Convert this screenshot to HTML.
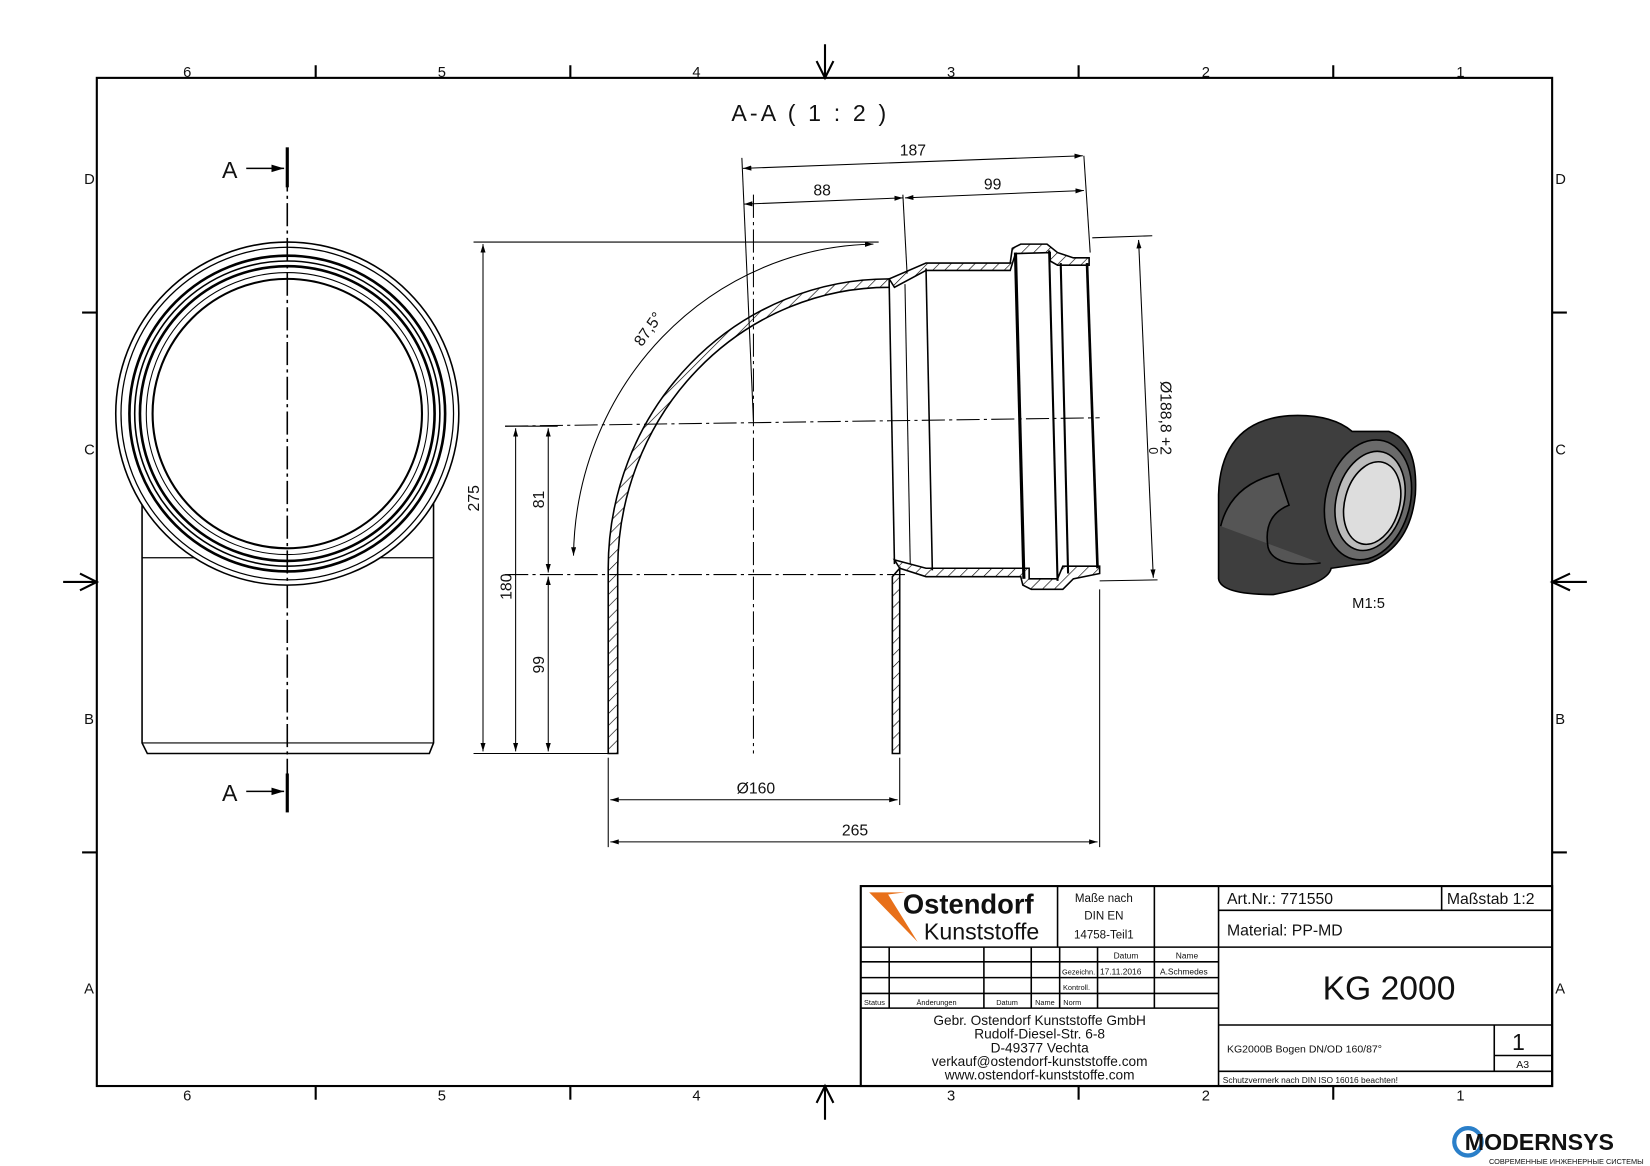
<!DOCTYPE html>
<html><head><meta charset="utf-8"><style>
html,body{margin:0;padding:0;background:#fff}
svg{display:block}
text{font-family:"Liberation Sans",sans-serif;fill:#111}
</style></head><body>
<svg width="1650" height="1166" viewBox="0 0 1568 1108" preserveAspectRatio="none" xmlns="http://www.w3.org/2000/svg">
<defs>
<pattern id="h" width="8" height="8" patternUnits="userSpaceOnUse" patternTransform="rotate(45)"><line x1="0" y1="0" x2="0" y2="8" stroke="#000" stroke-width="1.2"/></pattern>
<marker id="a" viewBox="0 0 10 10" refX="10" refY="5" markerWidth="8" markerHeight="8" orient="auto-start-reverse"><path d="M0,2 L10,5 L0,8" fill="#000"/></marker>
</defs>
<g stroke="#000" fill="none">
<rect x="92" y="74" width="1383" height="958" stroke-width="2"/>
<!-- ticks -->
<g stroke-width="2">
<line x1="300" y1="62" x2="300" y2="74"/><line x1="542" y1="62" x2="542" y2="74"/><line x1="1025" y1="62" x2="1025" y2="74"/><line x1="1267" y1="62" x2="1267" y2="74"/>
<line x1="300" y1="1032" x2="300" y2="1045"/><line x1="542" y1="1032" x2="542" y2="1045"/><line x1="1025" y1="1032" x2="1025" y2="1045"/><line x1="1267" y1="1032" x2="1267" y2="1045"/>
<line x1="78" y1="297" x2="92" y2="297"/><line x1="78" y1="810" x2="92" y2="810"/><line x1="1475" y1="297" x2="1489" y2="297"/><line x1="1475" y1="810" x2="1489" y2="810"/>
</g>
<!-- center arrows -->
<path d="M784 42 V74 M776 58 L784 74 L792 58" stroke-width="2"/>
<path d="M784 1064 V1032 M776 1048 L784 1032 L792 1048" stroke-width="2"/>
<path d="M60 553 H92 M76 545 L92 553 L76 561" stroke-width="2"/>
<path d="M1508 553 H1475 M1492 545 L1475 553 L1492 561" stroke-width="2"/>
</g>
<g font-size="14" fill="#222">
<text x="174" y="73">6</text><text x="416" y="73">5</text><text x="658" y="73">4</text><text x="900" y="73">3</text><text x="1142" y="73">2</text><text x="1384" y="73">1</text>
<text x="174" y="1046">6</text><text x="416" y="1046">5</text><text x="658" y="1046">4</text><text x="900" y="1046">3</text><text x="1142" y="1046">2</text><text x="1384" y="1046">1</text>
<text x="80" y="175">D</text><text x="80" y="432">C</text><text x="80" y="688">B</text><text x="80" y="944">A</text>
<text x="1478" y="175">D</text><text x="1478" y="432">C</text><text x="1478" y="688">B</text><text x="1478" y="944">A</text>
</g>
<text x="695" y="115" font-size="22" letter-spacing="3">A-A ( 1 : 2 )</text>

<!-- left view -->
<g stroke="#000" fill="none">
<path d="M135 475 V706 L140 716 H408 L412 706 V475" stroke-width="1.5"/>
<line x1="135" y1="530" x2="412" y2="530" stroke-width="1.2"/>
<line x1="135" y1="706" x2="412" y2="706" stroke-width="1"/>
<circle cx="273" cy="393" r="163" fill="#fff" stroke-width="1.5"/>
<circle cx="273" cy="393" r="158" stroke-width="1.2"/>
<circle cx="273" cy="393" r="150" stroke-width="2.5"/>
<circle cx="273" cy="393" r="145" stroke-width="1.5"/>
<circle cx="273" cy="393" r="140" stroke-width="2.5"/>
<circle cx="273" cy="393" r="134" stroke-width="1"/>
<circle cx="273" cy="393" r="128" stroke-width="2"/>
<line x1="273" y1="160" x2="273" y2="755" stroke-dasharray="22,4,3,4" stroke-width="1.5"/>
<line x1="273" y1="140" x2="273" y2="178" stroke-width="3"/><line x1="273" y1="735" x2="273" y2="772" stroke-width="3"/>
<path d="M234 160 H270" stroke-width="1.5" marker-end="url(#a)"/>
<path d="M234 752 H270" stroke-width="1.5" marker-end="url(#a)"/>
</g>
<text x="211" y="169" font-size="22">A</text><text x="211" y="761" font-size="22">A</text>

<!-- section elbow -->
<g stroke="#000" stroke-width="1.5">
<path d="M845 265 A267 275 0 0 0 578 540 V716 H587 V540 A258 268 0 0 1 845 273 Z" fill="url(#h)"/>
<path d="M845 265 L880 250 H960 L962 236 L970 232 H995 L1005 240 L1020 245 H1035 V252 H1005 L998 248 V240 L965 241 L960 257 H880 L850 273 Z" fill="url(#h)"/>
<path d="M855 540 V716 H848 V548 Z" fill="url(#h)"/>
<path d="M855 540 L880 548 H970 L972 556 L980 560 H1010 L1020 550 L1045 545 V538 H1010 L1005 550 H978 V540 H880 L850 532 Z" fill="url(#h)"/>
</g>
<g stroke="#000" fill="none">
<line x1="845" y1="270" x2="850" y2="536" stroke-width="1.5"/>
<line x1="860" y1="270" x2="865" y2="536" stroke-width="1"/>
<line x1="880" y1="255" x2="886" y2="542" stroke-width="1.5"/>
<line x1="965" y1="240" x2="973" y2="550" stroke-width="3"/>
<line x1="997" y1="238" x2="1005" y2="552" stroke-width="2"/>
<line x1="1008" y1="250" x2="1015" y2="545" stroke-width="2"/>
<line x1="1033" y1="250" x2="1043" y2="540" stroke-width="2.5"/>
<line x1="716" y1="185" x2="716" y2="716" stroke-dasharray="22,4,3,4" stroke-width="1"/>
<line x1="480" y1="405" x2="1045" y2="397" stroke-dasharray="22,4,3,4" stroke-width="1"/>
<line x1="480" y1="546" x2="860" y2="546" stroke-dasharray="22,4,3,4" stroke-width="1"/>
<!-- dims -->
<g stroke-width="1">
<line x1="705" y1="150" x2="716" y2="400"/><line x1="1030" y1="148" x2="1036" y2="240"/><line x1="858" y1="185" x2="862" y2="260"/>
<line x1="706" y1="160" x2="1029" y2="148" marker-start="url(#a)" marker-end="url(#a)"/>
<line x1="707" y1="194" x2="858" y2="188" marker-start="url(#a)" marker-end="url(#a)"/>
<line x1="860" y1="188" x2="1030" y2="181" marker-start="url(#a)" marker-end="url(#a)"/>
<line x1="450" y1="230" x2="835" y2="230"/><line x1="450" y1="716" x2="578" y2="716"/><line x1="480" y1="405" x2="530" y2="405"/>
<line x1="459" y1="232" x2="459" y2="714" marker-start="url(#a)" marker-end="url(#a)"/>
<line x1="490" y1="407" x2="490" y2="714" marker-start="url(#a)" marker-end="url(#a)"/>
<line x1="521" y1="407" x2="521" y2="544" marker-start="url(#a)" marker-end="url(#a)"/>
<line x1="521" y1="548" x2="521" y2="714" marker-start="url(#a)" marker-end="url(#a)"/>
<path d="M830 232 A290 300 0 0 0 545 528" marker-start="url(#a)" marker-end="url(#a)"/>
<line x1="1038" y1="226" x2="1095" y2="224"/><line x1="1045" y1="552" x2="1100" y2="551"/>
<line x1="1082" y1="228" x2="1096" y2="549" marker-start="url(#a)" marker-end="url(#a)"/>
<line x1="578" y1="720" x2="578" y2="805"/><line x1="855" y1="720" x2="855" y2="765"/><line x1="1045" y1="560" x2="1045" y2="805"/>
<line x1="580" y1="760" x2="853" y2="760" marker-start="url(#a)" marker-end="url(#a)"/>
<line x1="580" y1="800" x2="1043" y2="800" marker-start="url(#a)" marker-end="url(#a)"/>
</g>
</g>
<g font-size="15">
<text x="855" y="148">187</text><text x="773" y="186">88</text><text x="935" y="180">99</text>
<text transform="translate(455,486) rotate(-90)">275</text>
<text transform="translate(486,570) rotate(-90)">180</text>
<text transform="translate(517,483) rotate(-90)">81</text>
<text transform="translate(517,640) rotate(-90)">99</text>
<text transform="translate(610,330) rotate(-55)">87,5°</text>
<text transform="translate(1103,362) rotate(90)">Ø188,8 +2</text>
<text transform="translate(1092,425) rotate(90)" font-size="12">0</text>
<text x="700" y="754">Ø160</text><text x="800" y="794">265</text>
<text x="1285" y="578" font-size="14">M1:5</text>
</g>

<!-- iso view -->
<g stroke="#000" stroke-width="1.5">
<path d="M1158 550 V470 Q1160 400 1225 395 Q1265 393 1285 410 L1320 410 Q1348 420 1345 470 Q1340 520 1300 535 L1265 540 Q1262 555 1210 565 Q1160 565 1158 550 Z" fill="#3e3e3e"/>
<path d="M1160 500 Q1170 460 1215 450 L1225 480 Q1200 490 1205 520 Q1210 540 1255 535" fill="#555"/>
<ellipse cx="1300" cy="475" rx="40" ry="58" transform="rotate(15 1300 475)" fill="#6a6a6a"/>
<ellipse cx="1302" cy="476" rx="32" ry="48" transform="rotate(15 1302 476)" fill="#bbb"/>
<ellipse cx="1304" cy="478" rx="26" ry="40" transform="rotate(15 1304 478)" fill="#ddd"/>
</g>

<!-- title block -->
<g stroke="#000" fill="none" stroke-width="1.5">
<rect x="818" y="842" width="657" height="190" stroke-width="2"/>
<line x1="818" y1="900" x2="1158" y2="900"/>
<line x1="1158" y1="842" x2="1158" y2="1032"/>
<line x1="1005" y1="842" x2="1005" y2="900"/><line x1="1097" y1="842" x2="1097" y2="958"/>
<line x1="818" y1="914" x2="1158" y2="914"/><line x1="818" y1="929" x2="1158" y2="929"/><line x1="818" y1="944" x2="1158" y2="944"/><line x1="818" y1="958" x2="1158" y2="958"/>
<line x1="845" y1="900" x2="845" y2="958"/><line x1="935" y1="900" x2="935" y2="958"/><line x1="980" y1="900" x2="980" y2="958"/><line x1="1007" y1="900" x2="1007" y2="958"/><line x1="1043" y1="900" x2="1043" y2="958"/>
<line x1="1158" y1="865" x2="1475" y2="865"/><line x1="1158" y1="900" x2="1475" y2="900"/><line x1="1158" y1="974" x2="1475" y2="974"/><line x1="1158" y1="1018" x2="1475" y2="1018"/>
<line x1="1370" y1="842" x2="1370" y2="865"/><line x1="1420" y1="974" x2="1420" y2="1018"/><line x1="1420" y1="1003" x2="1475" y2="1003"/>
</g>
<path d="M826 848 H860 L844 850 L872 895 Z" fill="#e8701a"/>
<text x="858" y="868" font-size="26" fill="#e8701a" font-weight="bold">Ostendorf</text>
<text x="878" y="893" font-size="22">Kunststoffe</text>
<g font-size="11" text-anchor="middle">
<text x="1049" y="857">Maße nach</text><text x="1049" y="874">DIN EN</text><text x="1049" y="892">14758-Teil1</text>
<text x="1070" y="911" font-size="8">Datum</text><text x="1128" y="911" font-size="8">Name</text>
<text x="1025" y="926" font-size="7">Gezeichn.</text><text x="1065" y="926" font-size="8">17.11.2016</text><text x="1125" y="926" font-size="8">A.Schmedes</text>
<text x="1023" y="941" font-size="7">Kontroll.</text><text x="1019" y="955" font-size="7">Norm</text>
<text x="831" y="955" font-size="7">Status</text><text x="890" y="955" font-size="7">Änderungen</text><text x="957" y="955" font-size="7">Datum</text><text x="993" y="955" font-size="7">Name</text>
<text x="988" y="974" font-size="13">Gebr. Ostendorf Kunststoffe GmbH</text>
<text x="988" y="987" font-size="13">Rudolf-Diesel-Str. 6-8</text>
<text x="988" y="1000" font-size="13">D-49377 Vechta</text>
<text x="988" y="1013" font-size="13">verkauf@ostendorf-kunststoffe.com</text>
<text x="988" y="1026" font-size="13">www.ostendorf-kunststoffe.com</text>
</g>
<text x="1166" y="859" font-size="15">Art.Nr.: 771550</text>
<text x="1375" y="859" font-size="15">Maßstab 1:2</text>
<text x="1166" y="889" font-size="15">Material: PP-MD</text>
<text x="1320" y="950" font-size="32" text-anchor="middle">KG 2000</text>
<text x="1166" y="1000" font-size="10">KG2000B Bogen DN/OD 160/87°</text>
<text x="1443" y="998" font-size="22" text-anchor="middle">1</text>
<text x="1447" y="1015" font-size="10" text-anchor="middle">A3</text>
<text x="1162" y="1029" font-size="8">Schutzvermerk nach DIN ISO 16016 beachten!</text>
<!-- logo bottom right -->
<circle cx="1395" cy="1085" r="13" fill="none" stroke="#2a7fc9" stroke-width="4"/>
<text x="1392" y="1093" font-size="22" font-weight="bold" fill="#3a4a5a">MODERNSYS</text>
<text x="1415" y="1106" font-size="7" fill="#2a7fc9">СОВРЕМЕННЫЕ ИНЖЕНЕРНЫЕ СИСТЕМЫ</text>
</svg>
</body></html>
